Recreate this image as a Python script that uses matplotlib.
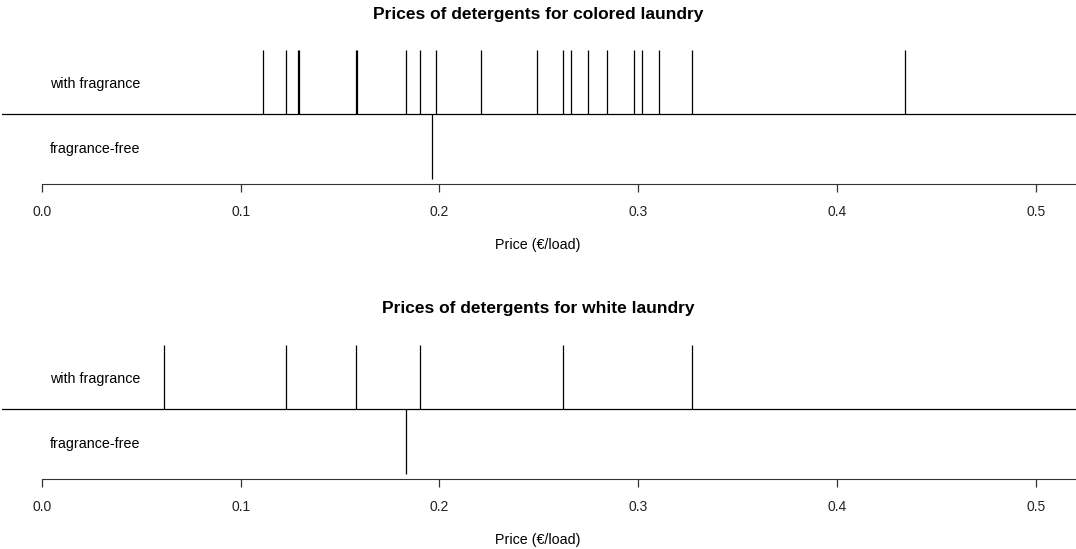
import numpy as np
import matplotlib.pyplot as plt

# prices in euro per load
colored_fragrance = [0.1114, 0.1227, 0.1287, 0.1292, 0.1582, 0.1586, 0.1830,
                     0.1902, 0.1984, 0.2209, 0.2489, 0.2620, 0.2660, 0.2749,
                     0.2843, 0.2980, 0.3017, 0.3106, 0.3270, 0.4343]
colored_free = [0.1961]
white_fragrance = [0.0617, 0.1227, 0.1582, 0.1902, 0.2620, 0.3270]
white_free = [0.1832]

row_labels = ['with fragrance', 'fragrance-free']
ticks = [0.0, 0.1, 0.2, 0.3, 0.4, 0.5]
tick_labels = ['0.0', '0.1', '0.2', '0.3', '0.4', '0.5']

plt.rcParams['font.family'] = ['Liberation Sans', 'DejaVu Sans']

W, H = 1076, 549
XMIN, XMAX = -0.02, 0.5202


def box(left, top, right, bottom):
    # pixel box -> figure fraction
    return [left / W, 1 - bottom / H, (right - left) / W, (bottom - top) / H]


def strip_panel(ax, fragrance, free):
    ax.vlines(fragrance, 1, 2, color='black', lw=0.9)
    ax.vlines(free, -0.02, 1, color='black', lw=0.9)
    ax.axhline(1, color='black', lw=0.9)
    ax.text(0.0042, 1.47, row_labels[0], fontsize=10.3, va='center', ha='left')
    ax.text(0.0042, 0.45, row_labels[1], fontsize=10.3, va='center', ha='left')
    ax.set_xlim(XMIN, XMAX)
    ax.set_ylim(-0.094, 2)
    for s in ['top', 'left', 'right']:
        ax.spines[s].set_visible(False)
    ax.spines['bottom'].set_bounds(0, XMAX)
    ax.spines['bottom'].set_color('#333333')
    ax.set_yticks([])
    ax.set_xticks(ticks)
    ax.set_xticklabels(tick_labels)
    ax.tick_params(axis='x', length=6, width=0.9, color='#333333', pad=9,
                   labelsize=10, labelcolor='#222222')


fig = plt.figure(figsize=(10.76, 5.49), dpi=100)

ax1 = fig.add_axes(box(2, 50, 1076, 184))
strip_panel(ax1, colored_fragrance, colored_free)
fig.text(538 / W, 1 - 14 / H, 'Prices of detergents for colored laundry',
         fontsize=12.5, fontweight='bold', ha='center', va='center')
fig.text(538 / W, 1 - 245 / H, 'Price (€/load)', fontsize=10.3,
         ha='center', va='center')

ax2 = fig.add_axes(box(2, 345, 1076, 479))
strip_panel(ax2, white_fragrance, white_free)
fig.text(538 / W, 1 - 309 / H, 'Prices of detergents for white laundry',
         fontsize=12.5, fontweight='bold', ha='center', va='center')
fig.text(538 / W, 1 - 540 / H, 'Price (€/load)', fontsize=10.3,
         ha='center', va='center')

plt.savefig('out.png', dpi=100)
